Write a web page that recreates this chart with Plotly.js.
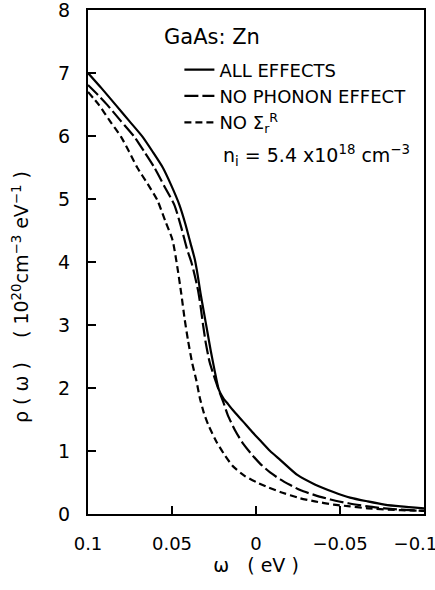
<!DOCTYPE html>
<html>
<head>
<meta charset="utf-8">
<script src="https://cdn.plot.ly/plotly-3.0.1.min.js"></script>
<style>html,body{margin:0;padding:0;background:#fff}#chart{width:435px;height:590px}</style>
</head>
<body>
<div id="chart"></div>
<script>
// ALL EFFECTS (solid)
const allX = [0.1, 0.092, 0.0834, 0.0755, 0.0676, 0.0615, 0.0555, 0.0505, 0.0455, 0.042, 0.039, 0.0365, 0.0347, 0.033, 0.031, 0.029, 0.027, 0.0245, 0.0222, 0.0195, 0.0165, 0.0138, 0.0078, 0.0025, -0.0024, -0.0084, -0.0144, -0.0246, -0.035, -0.0461, -0.056, -0.0665, -0.0765, -0.0862, -0.1];
const allY = [7.0, 6.76, 6.49, 6.24, 5.99, 5.75, 5.50, 5.22, 4.90, 4.60, 4.30, 4.05, 3.79, 3.50, 3.20, 2.90, 2.60, 2.26, 1.98, 1.84, 1.74, 1.65, 1.47, 1.31, 1.17, 1.00, 0.86, 0.62, 0.47, 0.35, 0.26, 0.20, 0.15, 0.12, 0.09];
// NO PHONON EFFECT (long dash)
const phonX = [0.1, 0.094, 0.0884, 0.0805, 0.0725, 0.0665, 0.0605, 0.0545, 0.0485, 0.0445, 0.041, 0.0385, 0.0365, 0.0345, 0.033, 0.0315, 0.0298, 0.0275, 0.0245, 0.0222, 0.0195, 0.0168, 0.0125, 0.0078, 0.003, -0.0024, -0.0084, -0.0144, -0.0204, -0.0263, -0.035, -0.0443, -0.055, -0.0665, -0.0765, -0.0862, -0.1];
const phonY = [6.81, 6.65, 6.49, 6.24, 5.99, 5.75, 5.50, 5.20, 4.90, 4.55, 4.20, 4.00, 3.79, 3.55, 3.30, 3.00, 2.70, 2.40, 2.15, 1.97, 1.78, 1.57, 1.33, 1.12, 0.96, 0.80, 0.66, 0.55, 0.46, 0.38, 0.30, 0.23, 0.17, 0.12, 0.09, 0.07, 0.05];
// NO Sigma_r^R (short dash)
const sigX = [0.1, 0.0934, 0.087, 0.0804, 0.0755, 0.0707, 0.0645, 0.0587, 0.054, 0.0497, 0.0467, 0.0445, 0.0425, 0.0405, 0.038, 0.0355, 0.0335, 0.031, 0.0285, 0.0234, 0.0185, 0.0138, 0.007, -0.0006, -0.0075, -0.0144, -0.0263, -0.035, -0.0461, -0.056, -0.0665, -0.0862, -0.1];
const sigY = [6.70, 6.49, 6.24, 5.99, 5.75, 5.50, 5.24, 4.98, 4.65, 4.35, 3.90, 3.50, 3.10, 2.76, 2.40, 2.12, 1.85, 1.60, 1.42, 1.14, 0.93, 0.76, 0.61, 0.50, 0.42, 0.35, 0.25, 0.20, 0.15, 0.12, 0.09, 0.06, 0.05];

const xTickVals = [0.1, 0.05, 0, -0.05, -0.1];
const xTickText = ['0.1', '0.05', '0', '\u22120.05', '\u22120.1\u00a0\u00a0\u00a0'];
const yTickVals = [0, 1, 2, 3, 4, 5, 6, 7, 8];
const yTickText = ['0', '1', '2', '3', '4', '5', '6', '7', '8'];
const seriesNames = ['ALL EFFECTS', 'NO PHONON EFFECT', 'NO \u03A3<sub>r</sub><sup>R</sup>'];
const yTitle = '\u03C1 ( \u03C9 )    ( 10<sup>20</sup>cm<sup>\u22123</sup> eV<sup>\u22121</sup> )';
const xTitle = '\u03C9   ( eV )';

const font = 'DejaVu Sans, Liberation Sans, sans-serif';
const lineStyle = (dash) => ({color: '#000', width: 2.2, dash: dash, shape: 'spline', smoothing: 0.6});

const traces = [
  {x: allX, y: allY, name: seriesNames[0], mode: 'lines', line: lineStyle('solid')},
  {x: phonX, y: phonY, name: seriesNames[1], mode: 'lines', line: lineStyle('14px,4px')},
  {x: sigX, y: sigY, name: seriesNames[2], mode: 'lines', line: lineStyle('7px,4px')}
];

const layout = {
  width: 435, height: 590,
  margin: {l: 88, r: 11, t: 10, b: 76},
  paper_bgcolor: '#fff', plot_bgcolor: '#fff',
  font: {family: font, color: '#000', size: 18},
  showlegend: true,
  legend: {x: 0.272, y: 0.918, xanchor: 'left', yanchor: 'top', bgcolor: 'rgba(0,0,0,0)', font: {size: 18, family: font}, tracegroupgap: 0, itemwidth: 30},
  xaxis: {
    range: [0.1, -0.1], tickvals: xTickVals, ticktext: xTickText,
    ticks: 'inside', ticklen: 8, tickwidth: 1.5, tickcolor: '#000',
    showline: true, linecolor: '#000', linewidth: 2, mirror: true,
    showgrid: false, zeroline: false, ticklabeloverflow: 'allow', ticklabelstandoff: 12,
    tickfont: {size: 18, family: font},
    title: {text: xTitle, font: {size: 19, family: font}, standoff: 4}
  },
  yaxis: {
    range: [0, 8.0001], tickvals: yTickVals, ticktext: yTickText,
    ticks: 'inside', ticklen: 8, tickwidth: 1.5, tickcolor: '#000',
    showline: true, linecolor: '#000', linewidth: 2, mirror: true,
    showgrid: false, zeroline: false, ticklabeloverflow: 'allow', ticklabelstandoff: 12,
    tickfont: {size: 19, family: font},
    title: {text: ''}
  },
  annotations: [
    {xref: 'paper', yref: 'paper', x: -0.2, y: 0.43, xanchor: 'center', yanchor: 'middle', textangle: -90, text: yTitle, showarrow: false, font: {size: 19, family: font}},
    {xref: 'paper', yref: 'paper', x: 0.22, y: 0.946, xanchor: 'left', yanchor: 'middle', text: 'GaAs: Zn', showarrow: false, font: {size: 21, family: font}},
    {xref: 'paper', yref: 'paper', x: 0.395, y: 0.712, xanchor: 'left', yanchor: 'middle', text: 'n<sub>i</sub> = 5.4 x10<sup>18</sup> cm<sup>\u22123</sup>', showarrow: false, font: {size: 19, family: font}}
  ]
};

Plotly.newPlot('chart', traces, layout, {displayModeBar: false, staticPlot: true});
</script>
</body>
</html>
